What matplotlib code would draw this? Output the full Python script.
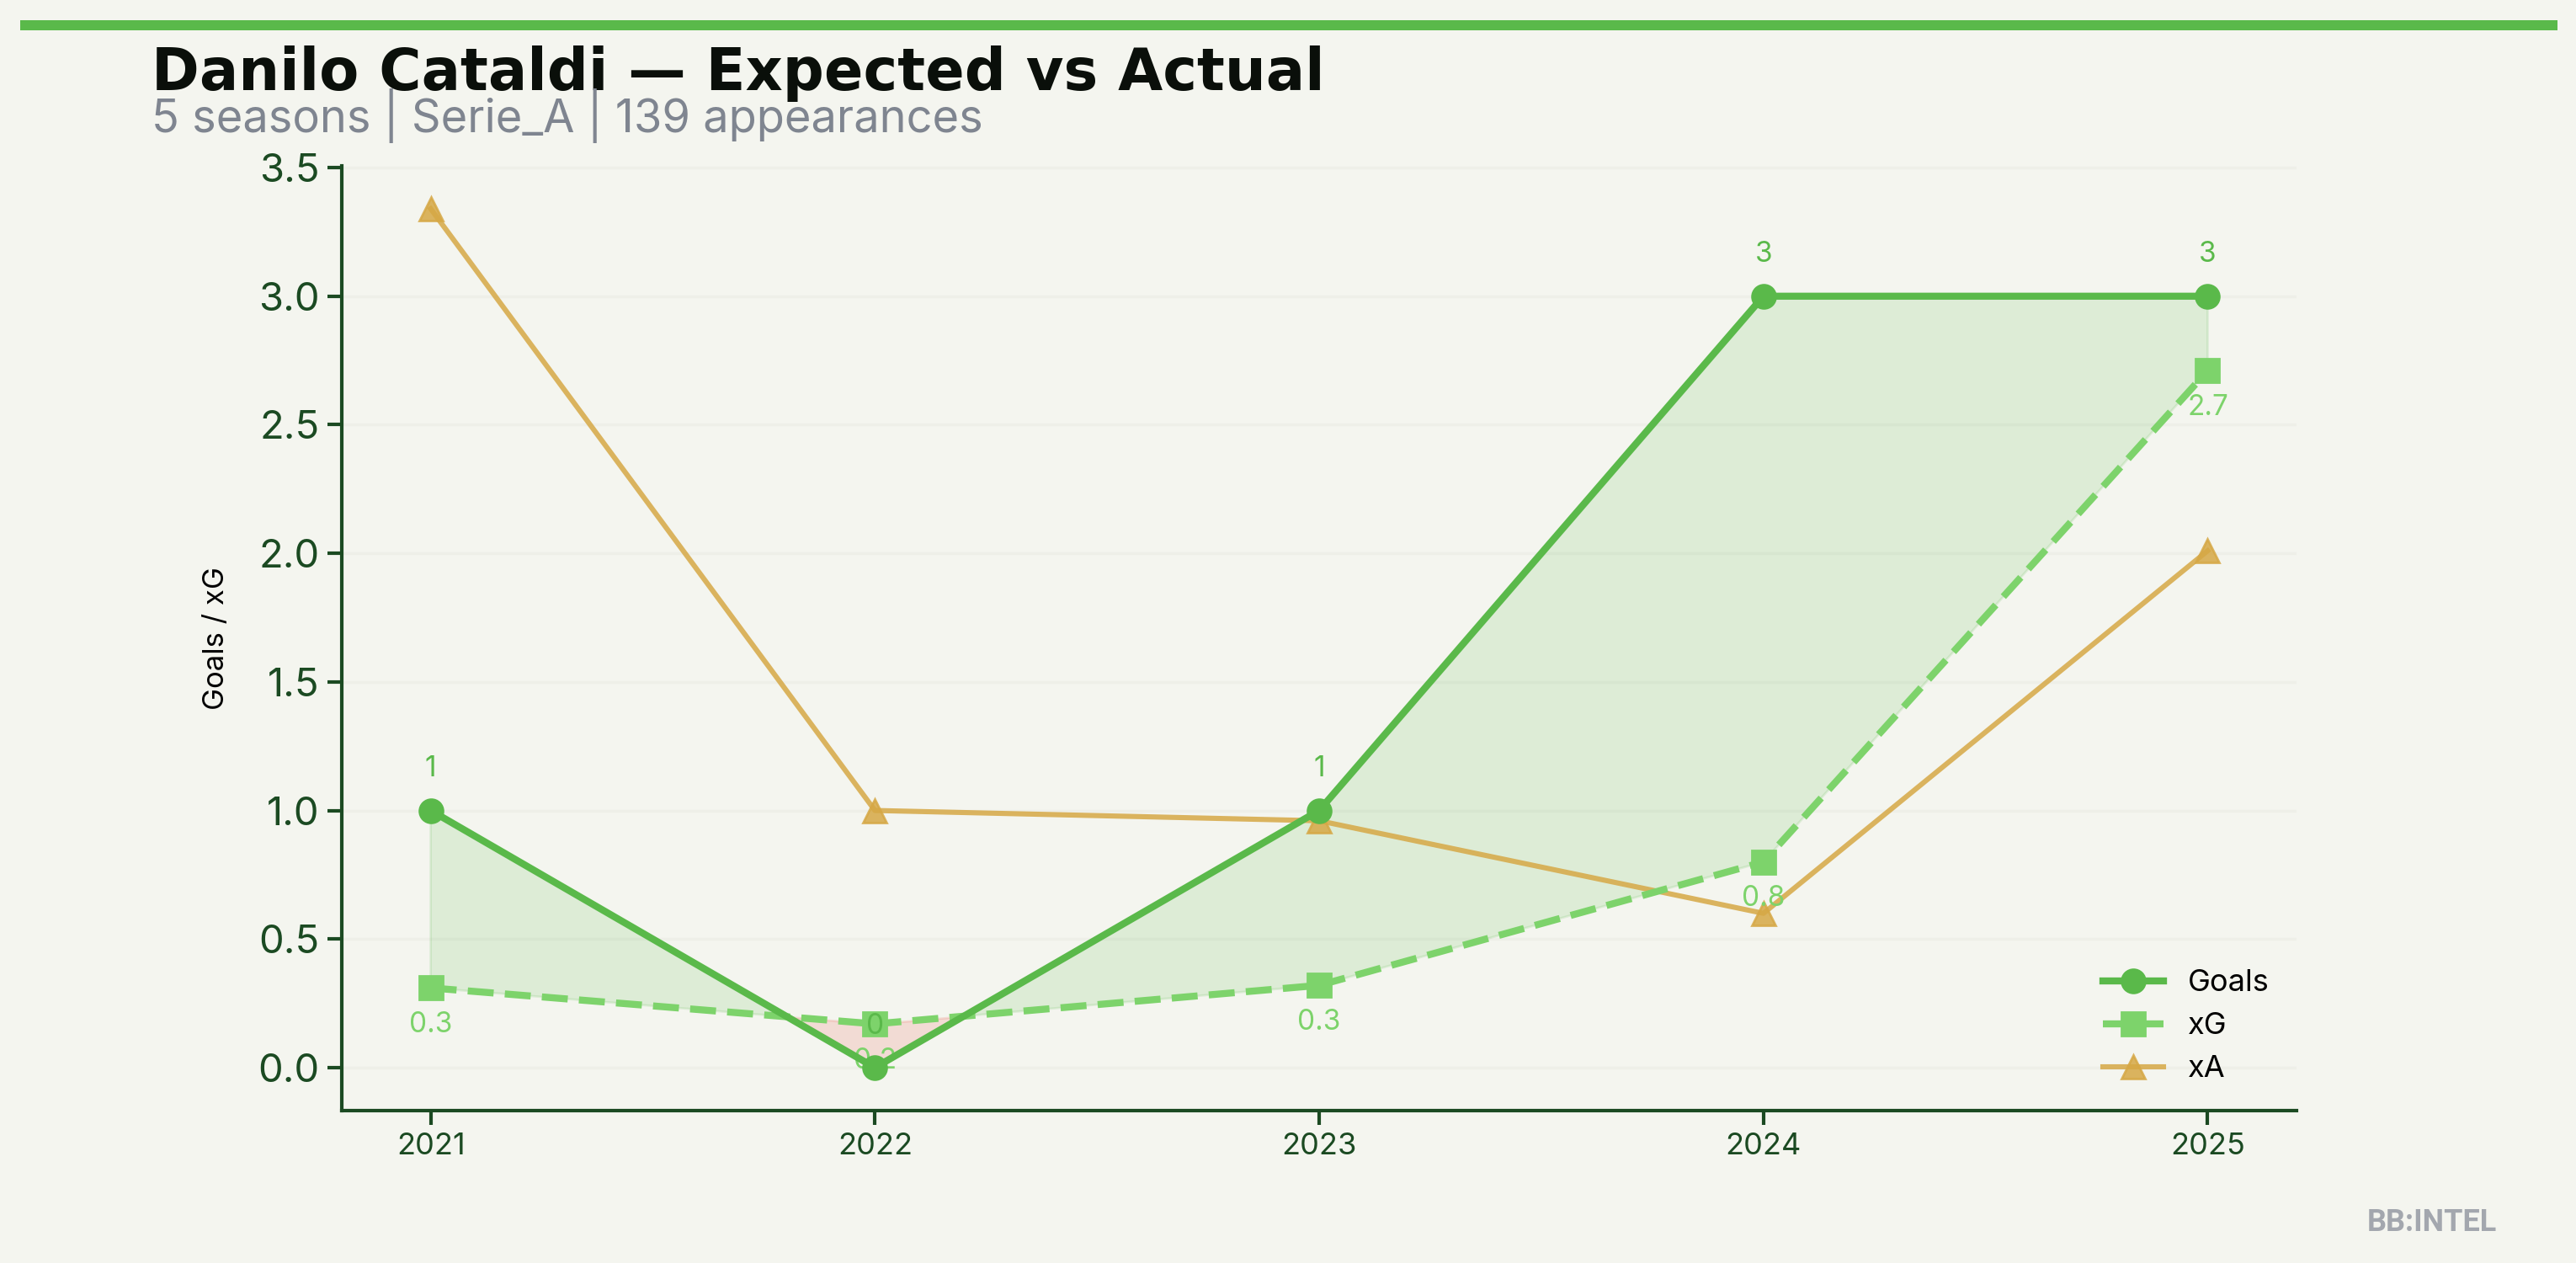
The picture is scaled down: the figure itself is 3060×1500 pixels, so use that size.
import numpy as np
import matplotlib
matplotlib.use("Agg")
import matplotlib.pyplot as plt

# data
seasons = [2021, 2022, 2023, 2024, 2025]
goals = [1, 0, 1, 3, 3]
xg = [0.31, 0.17, 0.32, 0.80, 2.71]
xa = [3.34, 1.00, 0.96, 0.60, 2.01]

player = "Danilo Cataldi"
league = "Serie_A"
appearances = 139

bg = "#f4f5ef"
green = "#5ab94a"
light_green = "#7dd36b"
gold = "#d6a845"
spine_col = "#1b4a22"

plt.rcParams['font.family'] = ['Inter', 'DejaVu Sans']

fig = plt.figure(figsize=(15.3, 7.5), dpi=200, facecolor=bg)
ax = fig.add_axes([0.1327, 0.1207, 0.7588, 0.748])
ax.set_facecolor(bg)

x = np.array(seasons)
g = np.array(goals, dtype=float)
e = np.array(xg)

# shaded gap between goals and xG
ax.fill_between(x, g, e, where=g >= e, interpolate=True, color=green, alpha=0.15, zorder=1)
ax.fill_between(x, g, e, where=g < e, interpolate=True, color="#e74c3c", alpha=0.15, zorder=1)

ax.plot(x, goals, color=green, lw=3, marker='o', ms=10, label='Goals', zorder=4)
ax.plot(x, xg, color=light_green, lw=3, ls='--', marker='s', ms=10, label='xG', zorder=3)
ax.plot(x, xa, color=gold, lw=2.2, marker='^', ms=10, alpha=0.85, label='xA', zorder=2)

for xi, v in zip(x, goals):
    ax.annotate(f"{v:g}", (xi, v), xytext=(0, 12), textcoords='offset points',
                ha='center', va='bottom', fontsize=12, color=green)
for xi, v in zip(x, xg):
    ax.annotate(f"{v:.1f}", (xi, v), xytext=(0, -10), textcoords='offset points',
                ha='center', va='top', fontsize=12, color=light_green)

ax.set_xticks(seasons)
ax.set_xticklabels([str(s) for s in seasons])
ax.set_yticks(np.arange(0, 3.51, 0.5))
ax.tick_params(axis='y', labelsize=17, colors=spine_col, length=6, width=1.5)
ax.tick_params(axis='x', labelsize=13, colors=spine_col, length=6, width=1.5)
ax.set_ylabel("Goals / xG", fontsize=12.5, color='black', labelpad=12)

for s in ['top', 'right']:
    ax.spines[s].set_visible(False)
for s in ['left', 'bottom']:
    ax.spines[s].set_color(spine_col)
    ax.spines[s].set_linewidth(1.5)

ax.yaxis.grid(True, color='#eeefe8', lw=1.2)
ax.xaxis.grid(False)
ax.set_axisbelow(True)

leg = ax.legend(loc='lower right', frameon=False, fontsize=13)

# header
fig.add_artist(plt.Rectangle((24 / 3060, 1 - 36 / 1500), (3038 - 24) / 3060, 12 / 1500,
                             transform=fig.transFigure, color=green, lw=0))
fig.text(0.0588, 0.9287, f"{player} \u2014 Expected vs Actual", fontsize=24.7,
         fontweight='bold', family=['DejaVu Sans'], color='#0a0f0a', va='baseline')
fig.text(0.0588, 0.8953, f"{len(seasons)} seasons | {league} | {appearances} appearances",
         fontsize=19.5, color='#7f8590', va='baseline')
fig.text(0.9693, 0.0253, "BB:INTEL", fontsize=13, fontweight='bold',
         family=['Roboto', 'DejaVu Sans'], color='#a3a7ae', ha='right', va='baseline')

fig.savefig("out.png", dpi=200, facecolor=bg)
